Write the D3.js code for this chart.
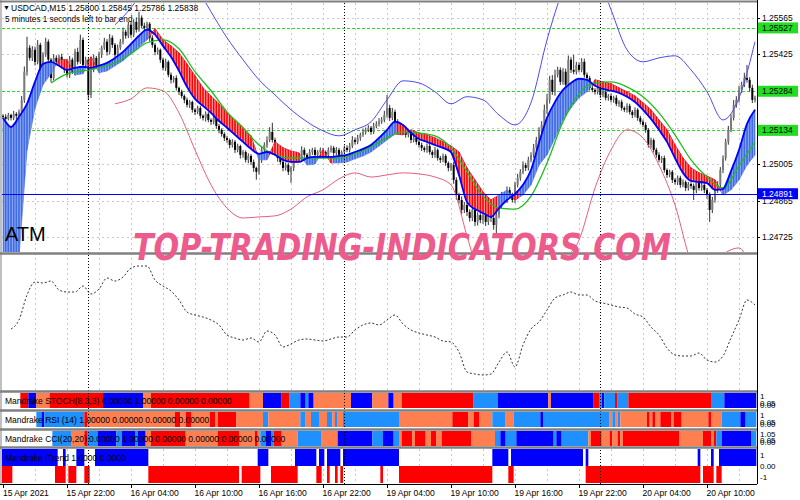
<!DOCTYPE html>
<html><head><meta charset="utf-8">
<script src="https://cdn.jsdelivr.net/npm/d3@7/dist/d3.min.js"></script>
<style>body{margin:0;background:#fff}svg{display:block}text{font-family:"Liberation Sans",Arial,sans-serif}</style>
</head><body>
<svg id="c" width="800" height="500"></svg>
<script>
// ---------- DATA (prices stored in points = 1e-5 above BASE) ----------
const BASE = 1.24;
const firstOpen = 1190;
const closePts = [
1186,1178,1193,1182,1197,1190,1205,1251,1359,1451,1412,1443,
1397,1462,1366,1424,1474,1405,1335,1412,1397,1416,1382,1366,
1347,1405,1359,1435,1397,1481,1385,1405,1270,1366,1412,1382,
1424,1451,1474,1435,1489,1462,1424,1451,1474,1512,1497,1539,
1501,1550,1520,1566,1535,1527,1543,1489,1462,1435,1443,1405,
1374,1397,1347,1328,1335,1297,1282,1266,1251,1232,1243,1213,
1205,1220,1190,1182,1197,1174,1167,1182,1151,1136,1120,1105,
1097,1078,1090,1059,1074,1040,1051,1021,1036,1013,990,975,
1021,1059,1078,1097,1128,1097,1059,1028,1013,990,1001,975,
990,1021,1040,1028,1059,1040,1021,1051,1059,1040,1051,1059,
1051,1040,1059,1067,1047,1059,1040,1051,1067,1059,1074,1097,
1090,1105,1117,1128,1136,1144,1128,1151,1159,1167,1174,1193,
1220,1182,1205,1167,1155,1136,1144,1117,1128,1097,1105,1090,
1078,1067,1059,1074,1051,1040,1059,1028,1021,1036,1009,990,
1001,944,886,867,829,848,821,798,829,783,809,790,
809,783,829,798,771,809,848,886,867,905,886,867,
925,952,975,1001,990,1021,1040,1067,1097,1128,1155,1213,
1251,1328,1282,1347,1366,1320,1359,1309,1405,1366,1359,1385,
1366,1397,1347,1335,1297,1289,1282,1297,1270,1282,1259,1266,
1251,1259,1236,1243,1220,1213,1228,1205,1193,1213,1182,1167,
1155,1136,1078,1097,1059,1040,1021,1028,982,963,975,944,
936,952,925,936,913,928,921,905,936,913,925,905,
886,829,867,905,925,982,1028,1090,1136,1182,1232,1251,
1289,1309,1335,1328,1297,1251,1259];
const wickUp = [
6,10,8,5,12,7,9,15,20,42,10,14, 12,18,8,10,15,9,6,14,10,8,12,9,
10,14,8,12,16,20,9,11,8,10,13,7, 12,8,15,10,14,9,7,12,10,16,8,11,
14,10,18,23,9,12,8,6,10,7,9,5, 8,12,6,9,7,10,5,8,6,9,7,5,
6,9,8,5,10,7,6,9,5,8,6,7, 8,6,10,7,9,5,8,6,10,7,9,5,
12,15,10,14,18,35,9,7,8,6,10,8, 7,10,12,8,14,9,7,11,8,10,7,9,
8,6,10,9,7,11,8,6,9,10,12,15, 10,12,8,11,9,10,7,12,10,14,11,16,
50,12,15,9,10,8,12,7,9,6,10,8, 7,9,6,10,8,7,11,6,8,9,7,6,
8,12,10,9,14,11,8,10,12,9,11,8, 10,8,12,9,7,15,10,12,8,14,11,9,
12,15,10,14,9,12,10,15,12,18,14,20, 22,15,18,20,12,10,14,12,16,10,58,12,
10,14,12,9,8,10,7,11,9,8,10,7, 9,8,10,7,9,6,10,8,7,9,6,8,
8,10,7,9,6,8,10,7,9,6,8,7, 7,9,8,10,6,8,7,9,8,10,7,9,
8,10,12,9,14,11,10,12,15,13,18,14, 16,12,20,50,10,12,8];
const wickDn = [
8,12,6,10,9,14,8,10,12,15,10,12, 14,10,12,18,8,12,15,9,11,14,10,12,
10,12,9,15,11,8,14,10,19,12,9,11, 9,12,8,14,10,12,9,11,8,10,12,9,
12,9,11,8,10,12,9,14,11,13,10,12, 10,12,9,14,11,10,12,9,13,10,12,11,
12,9,11,10,14,9,12,10,11,13,10,12, 11,13,10,12,9,14,11,10,13,12,15,30,
10,12,9,11,8,10,12,14,11,13,10,12, 42,12,10,11,9,12,10,8,11,9,10,8,
9,11,8,10,12,9,10,11,8,9,10,8, 10,9,11,8,10,9,11,8,9,10,8,9,
10,12,9,11,10,12,9,11,10,12,9,11, 10,12,9,11,10,12,11,10,12,9,11,13,
12,15,18,14,16,12,15,14,12,16,14,12, 14,16,12,15,18,38,12,14,10,12,11,10,
12,10,11,9,12,10,9,11,10,12,14,15, 16,14,12,15,10,12,11,14,9,12,10,11,
10,9,11,12,10,9,11,10,12,9,10,11, 10,11,9,12,10,9,11,10,12,9,11,10,
9,11,10,12,10,11,9,12,10,11,9,12, 10,12,11,9,12,10,11,38,12,10,11,12,
14,46,12,10,11,9,12,10,11,9,10,11, 10,12,9,11,14,12,10];

// lines sampled every 3 bars
const fineStep = 3;
const maBlue = [1182,1147,1186,1236,1320,1389,1397,1382,1366,1374,
1378,1374,1382,1393,1412,1435,1466,1497,1520,1501,
1458,1416,1362,1301,1255,1228,1201,1170,1144,1117,
1090,1063,1044,1051,1040,1021,1013,1013,1028,1032,
1032,1032,1036,1040,1051,1063,1078,1105,1136,1167,
1155,1124,1101,1090,1078,1067,1051,963,859,832,
817,802,836,867,890,925,982,1086,1182,1243,
1289,1316,1332,1328,1305,1293,1286,1278,1263,1243,
1213,1178,1136,1090,1028,971,940,936,932,906,
909,978,1059,1159,1213];
// second edge of the trend ribbon (warm-up values sit at the bottom of the scale)
const ribEdge = [650,650,650,1059,1220,1309,1351,1405,1405,1347,
1351,1416,1355,1362,1382,1401,1428,1455,1481,1524,
1481,1458,1431,1389,1343,1297,1266,1236,1201,1174,
1144,1113,1021,1021,1090,1067,1055,1047,1001,1005,
1059,1009,1009,1013,1025,1036,1051,1074,1097,1120,
1117,1136,1124,1117,1105,1090,1074,1051,990,944,
898,867,886,905,867,886,925,1001,1040,1105,
1174,1220,1259,1282,1328,1320,1313,1297,1282,1266,
1240,1213,1174,1136,1078,1028,990,971,959,944,
886,906,944,1001,1040];
const oscVals = [null,61,70,95,108,107,109,100,98,98,
104,96,101,112,109,113,122,124,124,110,
104,99,90,78,75,73,70,65,55,52,
50,52,48,59,55,43,46,50,51,50,
49,51,53,53,60,65,67,65,70,75,
66,60,57,55,53,49,48,38,18,16,
15,16,28,38,23,45,61,68,80,92,
95,98,95,95,89,87,85,83,82,76,
73,63,55,42,35,34,34,37,30,28,
34,52,70,90,85];
// lines sampled every 6 bars
const coarseStep = 6;
const maGreen = [null,null,null,1316,1351,1362,1374,1393,1428,1470,1481,1447,1359,
1286,1205,1144,1078,1040,1028,1028,1028,1028,1044,
1071,1105,1128,1124,1113,1067,975,882,836,832,
882,1009,1167,1274,1316,1320,1301,1263,1201,1117,
1021,955,913,998,1090];
const bandUp = [null,null,null,null,null,null,null,
1539,1604,1693,1769,1789,1693,1589,1489,1405,1328,
1270,1213,1167,1132,1113,1136,1167,1251,1324,1316,
1282,1236,1263,1251,1193,1155,1240,1481,1673,1789,
1750,1597,1443,1397,1412,1420,1366,1282,1174,1259,1474];
const bandLo = [null,null,null,null,null,null,null,
1236,1255,1297,1286,1201,1059,925,836,798,802,
806,832,879,906,948,971,955,963,971,967,
955,925,729,521,406,368,406,502,629,713,
913,1059,1136,1105,1001,848,629,541,656,683,541];
// bar ranges where the ribbon is bearish (red)
const redRanges = [[21,25],[32,35],[55,95],[100,111],[119,123],[148,185],[192,193],[222,269]];

const priceTicks = [1.25565,1.25425,1.25284,1.25145,1.25005,1.24865,1.24725];
const greenLevels = [1.25527,1.25284,1.25134];
const blueLevel = 1.24891;
const timeLabels = [[0,"15 Apr 2021"],[24,"15 Apr 22:00"],[48,"16 Apr 04:00"],[72,"16 Apr 10:00"],
[96,"16 Apr 16:00"],[120,"16 Apr 22:00"],[144,"19 Apr 04:00"],[168,"19 Apr 10:00"],
[192,"19 Apr 16:00"],[216,"19 Apr 22:00"],[240,"20 Apr 04:00"],[264,"20 Apr 10:00"]];
const daySeps = [32,128,224];

// strip indicators: [startBar, state]  R red, C coral, B blue, L light blue, W none
const stochSeg = [[0,"W"],[7,"R"],[10,"B"],[13,"C"],[18,"R"],[38,"B"],[53,"C"],[56,"R"],[93,"C"],[98,"B"],
[105,"R"],[108,"L"],[112,"B"],[114,"L"],[115,"B"],[117,"C"],[131,"B"],[139,"C"],[145,"B"],[147,"C"],
[150,"R"],[177,"L"],[186,"B"],[205,"C"],[206,"B"],[222,"R"],[224,"L"],[225,"B"],[226,"L"],[230,"R"],
[231,"L"],[235,"R"],[266,"L"],[271,"B"]];
const rsiSeg = [[0,"W"],[13,"L"],[15,"B"],[16,"L"],[31,"R"],[32,"C"],[65,"R"],[67,"C"],[69,"R"],[71,"C"],
[78,"R"],[80,"C"],[81,"R"],[88,"C"],[98,"L"],[100,"C"],[112,"L"],[114,"C"],[116,"L"],[119,"C"],
[122,"L"],[124,"C"],[125,"L"],[126,"C"],[128,"L"],[149,"C"],[169,"R"],[175,"C"],[177,"R"],[179,"C"],
[184,"L"],[189,"C"],[192,"L"],[202,"B"],[203,"L"],[228,"C"],[229,"L"],[230,"C"],[231,"L"],[232,"C"],
[242,"R"],[243,"C"],[244,"R"],[245,"C"],[247,"R"],[251,"C"],[252,"R"],[255,"C"],[265,"R"],[266,"C"],
[270,"L"],[277,"B"],[279,"L"]];
const cciSeg = [[0,"W"],[19,"L"],[26,"C"],[31,"R"],[32,"L"],[36,"B"],[43,"L"],[45,"B"],[50,"L"],[51,"B"],
[54,"C"],[56,"R"],[69,"C"],[81,"R"],[89,"C"],[95,"R"],[96,"C"],[97,"L"],[99,"B"],[101,"L"],[102,"R"],
[105,"C"],[111,"L"],[120,"C"],[126,"B"],[139,"L"],[143,"B"],[147,"L"],[149,"C"],[150,"R"],[154,"C"],
[155,"R"],[159,"C"],[161,"R"],[163,"C"],[165,"R"],[176,"C"],[185,"L"],[187,"B"],[189,"L"],[193,"B"],
[207,"L"],[208,"B"],[210,"L"],[220,"C"],[221,"R"],[225,"C"],[228,"R"],[229,"C"],[231,"R"],[232,"C"],
[233,"R"],[254,"C"],[263,"R"],[266,"C"],[267,"R"],[268,"L"],[270,"B"],[281,"L"]];
const trendUpSeg = [[0,"B"],[21,"W"],[23,"B"],[24,"W"],[28,"B"],[31,"W"],[35,"B"],[55,"W"],[96,"B"],[100,"W"],
[110,"B"],[118,"W"],[119,"B"],[121,"W"],[122,"B"],[127,"W"],[128,"B"],[149,"W"],[184,"B"],[190,"W"],
[191,"B"],[218,"W"],[219,"B"],[220,"W"],[261,"B"],[262,"W"],[266,"B"],[267,"W"],[269,"B"]];
const trendDnSeg = [[0,"R"],[4,"W"],[20,"R"],[24,"W"],[25,"R"],[28,"W"],[31,"R"],[33,"W"],[55,"R"],[89,"W"],
[90,"R"],[97,"W"],[101,"R"],[111,"W"],[118,"R"],[120,"W"],[122,"R"],[123,"W"],[125,"R"],[126,"W"],
[127,"R"],[128,"W"],[142,"R"],[143,"W"],[149,"R"],[184,"W"],[190,"R"],[192,"W"],[219,"R"],[262,"W"],
[263,"R"],[267,"W"],[268,"R"],[270,"W"]];

// ---------- DRAW ----------
const svg = d3.select("#c");
const N = closePts.length;
const P = v => BASE + v / 1e5;
const x = d3.scaleLinear().domain([0, N - 1]).range([3, 755]);
const bw = x(1) - x(0);
const y = d3.scaleLinear().domain([1.246675, 1.256225]).range([252, 3]);
const yo = d3.scaleLinear().domain([0, 136]).range([390, 254]);
const L = 2, R = 757;
const stateColor = {R:"#ff0000", C:"#ff7f50", B:"#0000ff", L:"#1e90ff"};

svg.append("rect").attr("width", 800).attr("height", 500).attr("fill", "#fff");
const defs = svg.append("defs");
defs.append("clipPath").attr("id", "cm").append("rect").attr("x", L).attr("y", 3).attr("width", R - L).attr("height", 249);
defs.append("clipPath").attr("id", "co").append("rect").attr("x", L).attr("y", 255).attr("width", R - L).attr("height", 135);
const redClip = defs.append("clipPath").attr("id", "cr");
redRanges.forEach(r => redClip.append("rect").attr("x", x(r[0]) - bw / 2).attr("y", 0)
  .attr("width", x(r[1]) - x(r[0]) + bw).attr("height", 500));

// grids
const grid = svg.append("g").attr("stroke", "#c8c8c8").attr("stroke-dasharray", "2,3").attr("stroke-width", 1);
priceTicks.forEach(p => grid.append("line").attr("x1", L).attr("x2", R)
  .attr("y1", Math.round(y(p)) + 0.5).attr("y2", Math.round(y(p)) + 0.5));
for (let b = 12; b < N; b += 12) {
  const xx = Math.round(x(b)) + 0.5;
  grid.append("line").attr("x1", xx).attr("x2", xx).attr("y1", 3).attr("y2", 390);
  grid.append("line").attr("x1", xx).attr("x2", xx).attr("y1", 449).attr("y2", 484);
}

const main = svg.append("g").attr("clip-path", "url(#cm)");
greenLevels.forEach(p => main.append("line").attr("x1", L).attr("x2", R)
  .attr("y1", Math.round(y(p)) + 0.5).attr("y2", Math.round(y(p)) + 0.5)
  .attr("stroke", "#22dd22").attr("stroke-dasharray", "3,2").attr("stroke-width", 1.2));

// candles
const cg = main.append("g");
closePts.forEach((c, i) => {
  const o = i === 0 ? firstOpen : closePts[i - 1];
  const hi = Math.max(o, c) + wickUp[i], lo = Math.min(o, c) - wickDn[i];
  const xx = x(i);
  cg.append("line").attr("x1", xx).attr("x2", xx).attr("y1", y(P(hi))).attr("y2", y(P(lo)))
    .attr("stroke", "#333").attr("stroke-width", 1);
  const top = y(P(Math.max(o, c))), bot = y(P(Math.min(o, c)));
  cg.append("rect").attr("x", xx - 1).attr("width", 2).attr("y", top).attr("height", Math.max(1, bot - top))
    .attr("fill", c >= o ? "#7a7a7a" : "#000");
});

// ribbon: one quad per sample interval, with per-bar separators
const ribG = main.append("g");
const ribRed = main.append("g").attr("clip-path", "url(#cr)");
for (let k = 0; k + 1 < maBlue.length; k++) {
  const xa = x(k * fineStep), xb = x((k + 1) * fineStep);
  const pts = [[xa, y(P(maBlue[k]))], [xb, y(P(maBlue[k + 1]))], [xb, y(P(ribEdge[k + 1]))], [xa, y(P(ribEdge[k]))]];
  const d = "M" + pts.map(p => p[0].toFixed(2) + "," + p[1].toFixed(2)).join("L") + "Z";
  ribG.append("path").attr("d", d).attr("fill", "#3f6be4").attr("stroke", "#3f6be4").attr("stroke-width", 0.6);
  ribRed.append("path").attr("d", d).attr("fill", "#ff0000").attr("stroke", "#ff0000").attr("stroke-width", 0.6);
}
const ribArea = d3.area().x(d => x(d[0])).y0(d => y(P(d[2]))).y1(d => y(P(d[1])));
const ribPath = ribArea(maBlue.map((v, k) => [k * fineStep, v, ribEdge[k]]));
defs.append("clipPath").attr("id", "crib").append("path").attr("d", ribPath);
const stripeG = main.append("g").attr("clip-path", "url(#crib)");
for (let i = 0; i < N; i++) {
  const red = redRanges.some(r => i >= r[0] && i <= r[1]);
  stripeG.append("line").attr("x1", x(i) + bw / 2).attr("x2", x(i) + bw / 2).attr("y1", 3).attr("y2", 252)
    .attr("stroke", red ? "#ffe0e0" : "#a9bdf7").attr("stroke-width", 0.8);
}

// lines
function line(arr, step, color, w) {
  const gen = d3.line().defined(d => d[1] != null).x(d => x(d[0])).y(d => y(P(d[1]))).curve(d3.curveMonotoneX);
  main.append("path").attr("d", gen(arr.map((v, k) => [k * step, v])))
    .attr("fill", "none").attr("stroke", color).attr("stroke-width", w);
}
line(bandUp, coarseStep, "#4d4df2", 1);
line(bandLo, coarseStep, "#e8607e", 1);
line(maGreen, coarseStep, "#1cbf1c", 1.3);
line(maBlue, fineStep, "#0000ff", 1.8);
main.append("line").attr("x1", L).attr("x2", R).attr("y1", Math.round(y(blueLevel)) + 0.5)
  .attr("y2", Math.round(y(blueLevel)) + 0.5).attr("stroke", "#0000ff").attr("stroke-width", 1);

// oscillator
const og = svg.append("g").attr("clip-path", "url(#co)");
og.append("path").attr("d", d3.line().defined(d => d[1] != null).x(d => x(d[0])).y(d => yo(d[1]))
    .curve(d3.curveMonotoneX)(oscVals.map((v, k) => [k * fineStep, v])))
  .attr("fill", "none").attr("stroke", "#333").attr("stroke-width", 1).attr("stroke-dasharray", "2,2");

// strips
function strip(segs, y0, h) {
  segs.forEach((s, j) => {
    if (s[1] === "W") return;
    const a = s[0], b = j + 1 < segs.length ? segs[j + 1][0] : N;
    const x0 = Math.max(L, x(a) - bw / 2), x1 = Math.min(R, x(b) - bw / 2);
    svg.append("rect").attr("x", x0).attr("width", x1 - x0).attr("y", y0).attr("height", h).attr("fill", stateColor[s[1]]);
  });
}
strip(stochSeg, 393, 15);
strip(rsiSeg, 412, 15);
strip(cciSeg, 431, 15);
strip(trendUpSeg, 449, 17);
strip(trendDnSeg, 466, 17);

// day separators
daySeps.forEach(b => svg.append("line").attr("x1", Math.round(x(b)) + 0.5).attr("x2", Math.round(x(b)) + 0.5)
  .attr("y1", 3).attr("y2", 484).attr("stroke", "#000").attr("stroke-dasharray", "1,2"));

// frames
const fr = svg.append("g").attr("stroke", "#808080").attr("fill", "none");
fr.append("line").attr("x1", 0).attr("x2", R).attr("y1", 1.5).attr("y2", 1.5).attr("stroke-width", 2);
[253.5, 391.5, 410.5, 429.5, 447.5].forEach(v => fr.append("line").attr("x1", 0).attr("x2", R)
  .attr("y1", v).attr("y2", v).attr("stroke-width", 2.5));
fr.append("line").attr("x1", 1).attr("x2", 1).attr("y1", 0).attr("y2", 484).attr("stroke-width", 1);
svg.append("line").attr("x1", R + 0.5).attr("x2", R + 0.5).attr("y1", 0).attr("y2", 484).attr("stroke", "#000");
svg.append("line").attr("x1", 0).attr("x2", R).attr("y1", 484.5).attr("y2", 484.5).attr("stroke", "#000");

// price axis labels
const fmt = d3.format(".5f");
priceTicks.forEach(p => {
  svg.append("line").attr("x1", R).attr("x2", R + 3).attr("y1", Math.round(y(p)) + 0.5).attr("y2", Math.round(y(p)) + 0.5).attr("stroke", "#000");
  svg.append("text").attr("x", 762).attr("y", y(p) + 3).attr("font-size", 8.5).attr("fill", "#000").text(fmt(p));
});
greenLevels.forEach(p => {
  svg.append("rect").attr("x", 758).attr("y", y(p) - 5.5).attr("width", 40).attr("height", 11).attr("fill", "#22dd22");
  svg.append("text").attr("x", 762).attr("y", y(p) + 3).attr("font-size", 8.5).attr("fill", "#000").text(fmt(p));
});
svg.append("rect").attr("x", 758).attr("y", y(blueLevel) - 5.5).attr("width", 40).attr("height", 11).attr("fill", "#0000ff");
svg.append("text").attr("x", 762).attr("y", y(blueLevel) + 3).attr("font-size", 8.5).attr("fill", "#fff").text(fmt(blueLevel));

// strip axis labels
const sl = (t, yy) => svg.append("text").attr("x", 760).attr("y", yy).attr("font-size", 8).attr("fill", "#000").text(t);
sl("1", 399); sl("0.05", 405.5); sl("0.00", 407.5);
sl("1", 418); sl("0.05", 424.5); sl("0.00", 426.5);
sl("1.05", 437); sl("0.05", 442.5); sl("0.00", 444.5);
sl("1", 458); sl("0.00", 469); sl("-1", 480);

// time axis
timeLabels.forEach(t => {
  const xx = Math.round(x(t[0])) + 0.5;
  svg.append("line").attr("x1", xx).attr("x2", xx).attr("y1", 484).attr("y2", 488).attr("stroke", "#000");
  svg.append("text").attr("x", t[0] === 0 ? 3 : xx - 1).attr("y", 496).attr("font-size", 8.5).attr("fill", "#000").text(t[1]);
});

// texts
svg.append("text").attr("x", 3).attr("y", 10).attr("font-size", 7).text("▼");
svg.append("text").attr("x", 11).attr("y", 11).attr("font-size", 8.5).text("USDCAD,M15  1.25800 1.25845 1.25786 1.25838");
svg.append("text").attr("x", 5).attr("y", 22).attr("font-size", 8.2).text("5 minutes 1 seconds left to bar end");
svg.append("text").attr("x", 5).attr("y", 241).attr("font-size", 20).text("ATM");
svg.append("text").attr("x", 5).attr("y", 404).attr("font-size", 8.5).text("Mandrake STOCH(8,3,3) 0.00000 1.00000 0.00000 0.00000");
svg.append("text").attr("x", 5).attr("y", 423).attr("font-size", 8.5).text("Mandrake RSI (14) 1.00000 0.00000 0.00000 0.00000");
svg.append("text").attr("x", 5).attr("y", 442).attr("font-size", 8.5).text("Mandrake CCI(20,20) 0.00000 1.00000 0.00000 0.00000 0.00000 0.00000");
svg.append("text").attr("x", 5).attr("y", 461).attr("font-size", 8.5).text("Mandrake iTrend 1.0000 0.0000");

// watermark
svg.append("text").attr("transform", "translate(133,260) scale(1,1.25)").attr("font-size", 29.7)
  .attr("font-weight", "bold").attr("font-style", "italic").style("font-family", "'DejaVu Sans',sans-serif")
  .attr("fill", "#ec5b8c").attr("textLength", 538).attr("lengthAdjust", "spacingAndGlyphs")
  .text("TOP-TRADING-INDICATORS.COM");
</script>
</body></html>
